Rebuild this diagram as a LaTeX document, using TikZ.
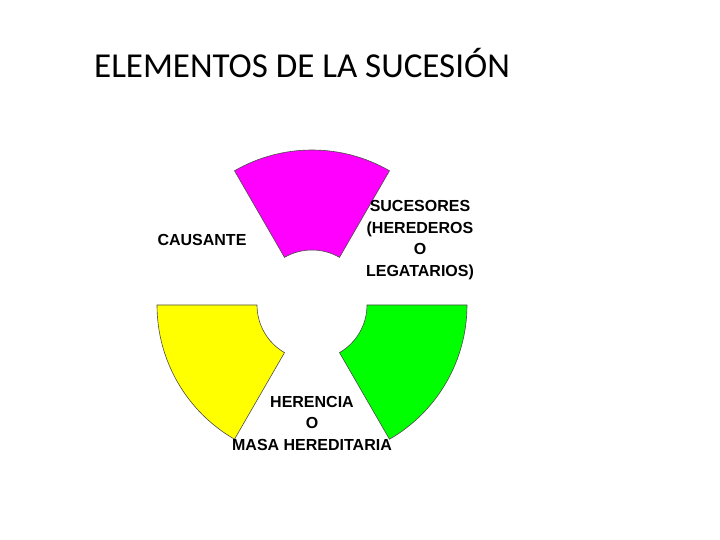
\documentclass[tikz,border=0pt]{standalone}
\usepackage{fontspec}
\setmainfont{Liberation Sans}
\newfontfamily\titlefont{Carlito}
\definecolor{mag}{RGB}{255,0,255}
\definecolor{yel}{RGB}{255,255,0}
\definecolor{grn}{RGB}{0,255,0}
\tikzset{
  sector/.style={draw=black!70, line width=0.6pt},
  lbl/.style={align=center, font=\bfseries\fontsize{16}{21.5}\selectfont, inner sep=0pt}
}
\newcommand{\ring}[3]{% start angle, end angle, colour
  \filldraw[sector, fill=#3] (#1:155) arc[start angle=#1, end angle=#2, radius=155]
    -- (#2:55) arc[start angle=#2, end angle=#1, radius=55] -- cycle;}
\begin{document}
\begin{tikzpicture}[x=1pt,y=1pt]
  \useasboundingbox (-312,-235) rectangle (408,305);
  % sectors around (0,0)
  \ring{60}{120}{mag}
  \ring{180}{240}{yel}
  \ring{300}{360}{grn}
  % texts
  \node[anchor=west, font=\titlefont\fontsize{35}{40}\selectfont, inner sep=0pt] (title) at (-218,242) {ELEMENTOS DE LA SUCESIÓN};
  \node[lbl] (causante) at (-110,65) {CAUSANTE};
  \node[lbl] (sucesores) at (108,65) {SUCESORES\\(HEREDEROS\\O\\LEGATARIOS)};
  \node[lbl] (herencia) at (0,-118) {HERENCIA\\O\\MASA HEREDITARIA};
\end{tikzpicture}
\end{document}
